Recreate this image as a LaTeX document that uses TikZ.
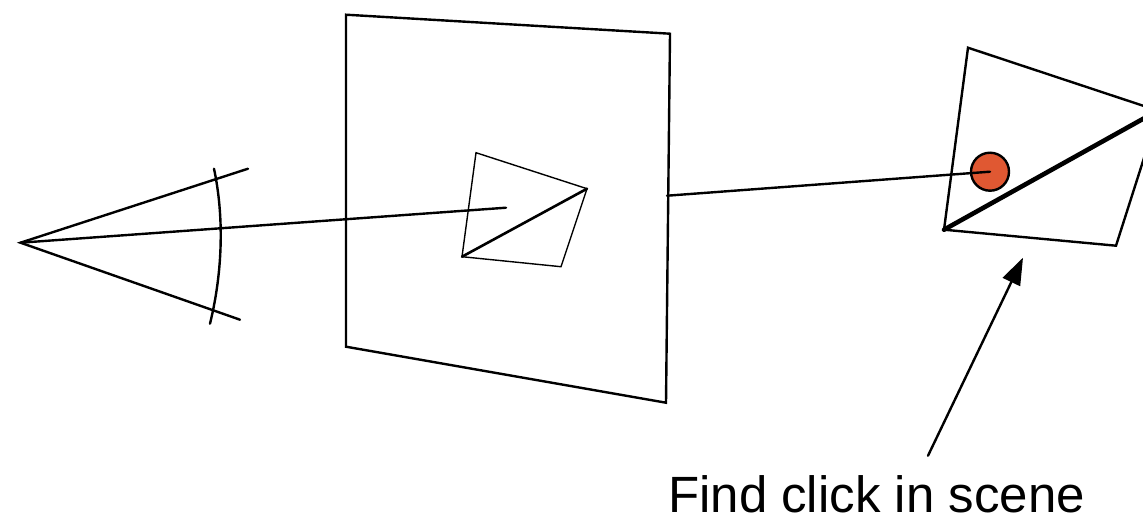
\documentclass[tikz,border=0pt]{standalone}
\usepackage{fontspec}
\setmainfont{Liberation Sans}
\usetikzlibrary{arrows.meta}
\definecolor{clickred}{RGB}{224,88,50}
\tikzset{
  ln/.style={draw=black,line width=2.4pt,line join=miter},
  thin ln/.style={draw=black,line width=1.4pt},
  thick ln/.style={draw=black,line width=4.6pt},
}
\begin{document}
\begin{tikzpicture}[x=1pt,y=-1pt,line cap=round]
\useasboundingbox (0,-0.7) rectangle (1143,514.3);
% eye
\coordinate (eye) at (20.5,242);
\coordinate (e1) at (248,168);
\coordinate (e2) at (240,319);
\draw[ln] (e1) -- (eye) -- (e2);
\draw[ln] (214,168) .. controls (224,215) and (223,270) .. (210,323);
% image plane
\draw[ln] (346,14) -- (670,33) -- (666,402) -- (346,346) -- cycle;
% small quad
\coordinate (a) at (476,152);
\coordinate (b) at (587,188);
\coordinate (c) at (561,266);
\coordinate (d) at (462,256);
\draw[thin ln] (a) -- (b) -- (c) -- (d) -- cycle;
\draw[draw=black,line width=2.6pt] (d) -- (b);
% ray
\draw[ln] (eye) -- (506,207);
% scene
\coordinate (sa) at (968,47);
\coordinate (sd) at (944,229);
\coordinate (sc) at (1116,245);
\draw[ln] (1146,106) -- (sa) -- (sd) -- (sc) -- (1146,151);
\draw[thick ln] (sd) -- (1146,116.5);
\node[circle,draw=black,line width=2.4pt,fill=clickred,minimum size=38pt,inner sep=0pt] (click) at (990,171) {};
\coordinate (pl) at (667,195);
\draw[ln] (pl) -- (click.center);
\coordinate (t) at (1023,257);
\coordinate (s) at (928,455);
\draw[ln,-{Triangle[length=27pt,width=19pt]}] (s) -- (t);
\node[font=\fontsize{51pt}{56pt}\selectfont,anchor=base,text=black,inner sep=0pt] (lab) at (876.5,511.5) {Find click in scene};
\end{tikzpicture}
\end{document}
